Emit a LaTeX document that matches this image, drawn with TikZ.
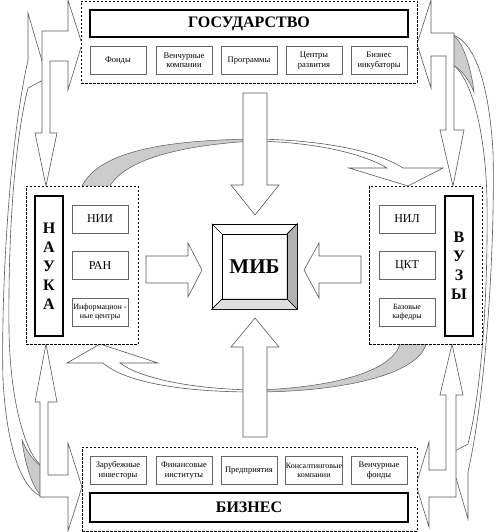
\documentclass[tikz,border=0pt]{standalone}
\usepackage{fontspec}
\setmainfont{Liberation Serif}

\begin{document}
\begin{tikzpicture}[x=1pt,y=-1pt,
  group/.style={draw,fill=white,dash pattern=on 2.5pt off 1.5pt,line width=.8pt,inner sep=0pt},
  head/.style={draw,line width=1.6pt,fill=white,inner sep=0pt,align=center,font=\fontsize{16}{19}\selectfont\bfseries},
  unit/.style={draw=black!60,line width=.7pt,fill=white,minimum width=56pt,minimum height=28pt,inner sep=0pt,align=center,font=\fontsize{8.5}{9.5}\selectfont},
  bigunit/.style={unit,font=\fontsize{12}{13}\selectfont},
  blk/.style={draw=black!65,line width=.6pt,fill=white,line join=miter},
  under/.style={draw=black!65,line width=.5pt,fill=gray!40}]
\useasboundingbox (0,0) rectangle (496,532);

% long curved arrows at the sides
\draw[blk] (28,13) -- (47,78) -- (28,88) .. controls (15,140) and (8,230) .. (9,330)
  .. controls (10,400) and (25,455) .. (43,467) -- (43,497)
  .. controls (22,490) and (7,450) .. (3,380) .. controls (1,300) and (8,150) .. (28,60) -- cycle;
\draw[under] (43,467) .. controls (34,462) and (27,452) .. (22,440) .. controls (25,465) and (33,490) .. (43,497) -- cycle;
\draw[blk] (468,519) -- (449,454) -- (468,444) .. controls (481,392) and (488,302) .. (487,202)
  .. controls (486,132) and (471,77) .. (453,65) -- (453,35)
  .. controls (474,42) and (489,82) .. (493,152) .. controls (495,232) and (488,382) .. (468,472) -- cycle;
\draw[under] (453,65) .. controls (462,70) and (469,80) .. (474,92) .. controls (471,67) and (463,42) .. (453,35) -- cycle;

% bent double arrows
\draw[blk] (42,31) -- (68,31) -- (68,0) -- (82,44) -- (68,90) -- (68,61) -- (50,61) -- (50,133)
  -- (57,133) -- (46,186) -- (35,133) -- (42,133) -- cycle;
\draw[blk] (454,33) -- (431,33) -- (431,0) -- (417,44) -- (431,88) -- (431,56) -- (446,56) -- (446,130)
  -- (440,130) -- (453,186) -- (464,130) -- (454,130) -- cycle;
\draw[blk] (40,497) -- (68,497) -- (68,531) -- (82,487) -- (68,443) -- (68,475) -- (48,475) -- (48,402)
  -- (57,402) -- (46,344) -- (35,402) -- (40,402) -- cycle;
\draw[blk] (456,497) -- (429,497) -- (429,527) -- (416,485) -- (429,442) -- (429,470) -- (446,470) -- (446,395)
  -- (440,395) -- (452,344) -- (463,395) -- (456,395) -- cycle;

% curved arrows round the centre
\draw[under] (82,186) .. controls (100,150) and (170,140) .. (255,139) -- (255,141)
  .. controls (180,145) and (125,160) .. (110,186) -- cycle;
\draw[blk] (255,139) .. controls (320,140) and (375,150) .. (403,168) -- (443,168) -- (408,186) -- (349,168)
  -- (387,168) .. controls (360,152) and (310,142) .. (255,141) -- cycle;
\draw[under] (426,344) .. controls (418,375) and (340,392) .. (255,392) -- (255,390)
  .. controls (330,388) and (392,372) .. (400,344) -- cycle;
\draw[blk] (255,392) .. controls (180,392) and (125,382) .. (103,363) -- (67,363) -- (100,344) -- (158,363)
  -- (120,363) .. controls (140,378) and (190,389) .. (255,390) -- cycle;

% block arrows to the centre
\draw[blk] (243,93) -- (267,93) -- (267,185) -- (279,185) -- (255,215) -- (231,185) -- (243,185) -- cycle;
\draw[blk] (243,437) -- (243,347) -- (231,347) -- (255,318) -- (279,347) -- (267,347) -- (267,437) -- cycle;
\draw[blk] (146,256) -- (188,256) -- (188,243) -- (202,270) -- (188,297) -- (188,283) -- (146,283) -- cycle;
\draw[blk] (361,256) -- (319,256) -- (319,243) -- (304,270) -- (319,298) -- (319,283) -- (361,283) -- cycle;

% state
\node[group,minimum width=336pt,minimum height=82pt] (gos) at (249,42) {};
\node[head,minimum width=318pt,minimum height=27pt] (gostitle) at (249,23.5) {ГОСУДАРСТВО};
\node[unit] (fund) at (118,60.5) {Фонды};
\node[unit] (venture) at (184,60.5) {Венчурные\\компании};
\node[unit] (progs) at (249,60.5) {Программы};
\node[unit] (centres) at (314,60.5) {Центры\\развития};
\node[unit] (incub) at (379,60.5) {Бизнес\\инкубаторы};

% business
\node[group,minimum width=335pt,minimum height=84pt] (biz) at (249.5,489) {};
\node[head,minimum width=318pt,minimum height=29pt] (biztitle) at (249,507.5) {БИЗНЕС};
\node[unit] (foreign) at (118,470.5) {Зарубежные\\инвесторы};
\node[unit] (finance) at (184,470.5) {Финансовые\\институты};
\node[unit] (firms) at (249,470.5) {Предприятия};
\node[unit,font=\fontsize{8}{9.5}\selectfont] (consult) at (314,470.5) {Консалтинговые\\компании};
\node[unit] (vfunds) at (379,470.5) {Венчурные\\фонды};

% science
\node[group,minimum width=112pt,minimum height=158pt] (nauka) at (82,265) {};
\node[head,minimum width=28pt,minimum height=140pt] (naukatitle) at (49,266) {Н\\А\\У\\К\\А};
\node[bigunit] (nii) at (100,219) {НИИ};
\node[bigunit] (ran) at (100,265.5) {РАН};
\node[unit,font=\fontsize{8}{9}\selectfont] (info) at (100,312) {Информацион -\\ные центры};

% universities
\node[group,minimum width=113pt,minimum height=158pt] (vuzy) at (425.5,265) {};
\node[head,minimum width=28pt,minimum height=140pt] (vuzytitle) at (459,266) {В\\У\\З\\Ы};
\node[bigunit] (nil) at (407,219) {НИЛ};
\node[bigunit] (ckt) at (407,265.5) {ЦКТ};
\node[unit,font=\fontsize{8}{9}\selectfont] (chairs) at (407,312) {Базовые\\кафедры};

% centre
\node[draw,line width=.7pt,fill=white,minimum size=85pt] (mib) at (254.5,266.5) {};
\filldraw[fill=gray!60,line width=.5pt] (mib.north east) -- (mib.south east) -- (287,299) -- (287,234) -- cycle;
\filldraw[fill=gray!25,line width=.5pt] (mib.south west) -- (mib.south east) -- (287,299) -- (222,299) -- cycle;
\node[draw,line width=.7pt,minimum size=65pt,inner sep=0pt,font=\fontsize{21}{24}\selectfont\bfseries] (mibin) at (mib) {МИБ};
\draw[line width=.5pt] (mib.north west) -- (mibin.north west);
\draw[line width=.5pt] (mib.north east) -- (mibin.north east);
\draw[line width=.5pt] (mib.south west) -- (mibin.south west);
\end{tikzpicture}
\end{document}
